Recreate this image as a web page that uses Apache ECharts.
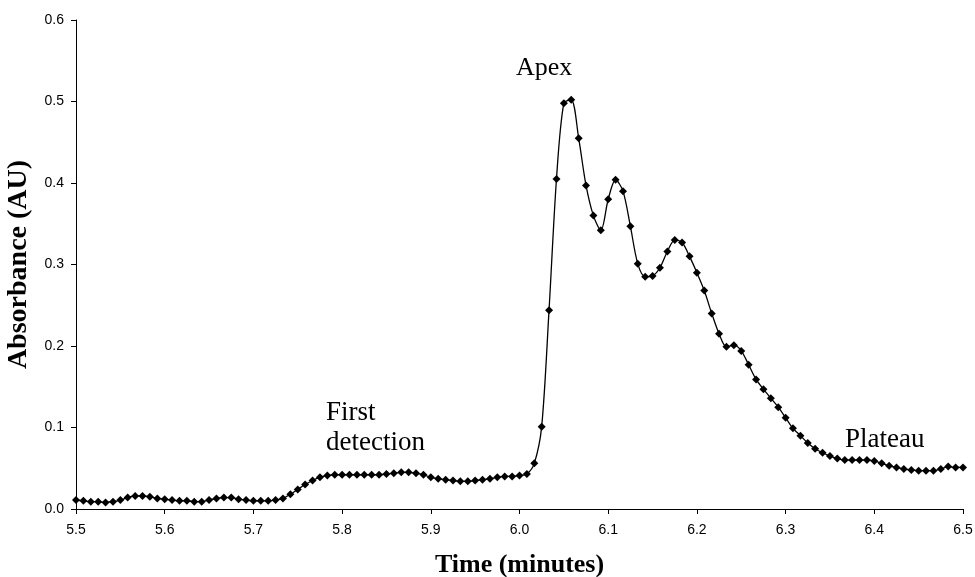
<!DOCTYPE html>
<html>
<head>
<meta charset="utf-8">
<script src="https://cdn.jsdelivr.net/npm/echarts@6/dist/echarts.min.js"></script>
<style>
html,body{margin:0;padding:0;background:#fff;}
#chart{width:975px;height:577px;}
</style>
</head>
<body>
<div id="chart"></div>
<script>
// Sampling times (minutes)
var times = [
  5.5,5.5083,5.5167,5.525,5.5333,5.5417,5.55,5.5583,5.5667,5.575,5.5833,5.5917,
  5.6,5.6083,5.6167,5.625,5.6333,5.6417,5.65,5.6583,5.6667,5.675,5.6833,5.6917,
  5.7,5.7083,5.7167,5.725,5.7333,5.7417,5.75,5.7583,5.7667,5.775,5.7833,5.7917,
  5.8,5.8083,5.8167,5.825,5.8333,5.8417,5.85,5.8583,5.8667,5.875,5.8833,5.8917,
  5.9,5.9083,5.9167,5.925,5.9333,5.9417,5.95,5.9583,5.9667,5.975,5.9833,5.9917,
  6.0,6.0083,6.0167,6.025,6.0333,6.0417,6.05,6.0583,6.0667,6.075,6.0833,6.0917,
  6.1,6.1083,6.1167,6.125,6.1333,6.1417,6.15,6.1583,6.1667,6.175,6.1833,6.1917,
  6.2,6.2083,6.2167,6.225,6.2333,6.2417,6.25,6.2583,6.2667,6.275,6.2833,6.2917,
  6.3,6.3083,6.3167,6.325,6.3333,6.3417,6.35,6.3583,6.3667,6.375,6.3833,6.3917,
  6.4,6.4083,6.4167,6.425,6.4333,6.4417,6.45,6.4583,6.4667,6.475,6.4833,6.4917,
  6.5
];
// Absorbance (AU)
var absorbance = [
  0.011,0.010,0.009,0.009,0.008,0.009,0.011,0.014,0.016,0.016,0.015,0.013,
  0.012,0.011,0.010,0.010,0.009,0.009,0.011,0.013,0.014,0.014,0.012,0.011,
  0.010,0.010,0.010,0.011,0.013,0.018,0.024,0.030,0.035,0.039,0.041,0.042,
  0.042,0.042,0.042,0.042,0.042,0.042,0.043,0.044,0.045,0.045,0.044,0.042,
  0.039,0.037,0.036,0.035,0.034,0.034,0.035,0.036,0.037,0.039,0.040,0.040,
  0.041,0.043,0.056,0.101,0.244,0.405,0.498,0.502,0.455,0.397,0.360,0.342,
  0.380,0.404,0.390,0.347,0.301,0.285,0.286,0.296,0.316,0.330,0.327,0.310,
  0.290,0.268,0.240,0.215,0.199,0.201,0.194,0.177,0.159,0.147,0.136,0.125,
  0.112,0.099,0.090,0.081,0.074,0.069,0.065,0.062,0.060,0.060,0.060,0.060,
  0.059,0.056,0.053,0.051,0.049,0.048,0.047,0.047,0.047,0.049,0.052,0.051,
  0.051
];
var xTitle = 'Time (minutes)';
var yTitle = 'Absorbance (AU)';
var annotations = ['Apex', 'First\ndetection', 'Plateau'];

var seriesData = times.map(function (t, i) { return [t, absorbance[i]]; });

var chart = echarts.init(document.getElementById('chart'), null, {renderer: 'canvas'});
var sans = '"Liberation Sans", Arial, sans-serif';
var serif = '"Liberation Serif", "Times New Roman", serif';

chart.setOption({
  backgroundColor: '#ffffff',
  animation: false,
  grid: {left: 76, right: 12, top: 20, bottom: 68, containLabel: false, outerBoundsMode: 'none'},
  xAxis: {
    type: 'value', min: 5.5, max: 6.5, interval: 0.1,
    name: xTitle, nameLocation: 'middle', nameGap: 43,
    nameTextStyle: {fontFamily: serif, fontWeight: 'bold', fontSize: 26, color: '#000'},
    axisLine: {show: true, onZero: false, lineStyle: {color: '#000', width: 1}},
    axisTick: {show: true, inside: false, length: 5, lineStyle: {color: '#000'}},
    axisLabel: {fontFamily: sans, fontSize: 14, color: '#000', margin: 14,
      formatter: function (v) { return v.toFixed(1); }},
    splitLine: {show: false}
  },
  yAxis: {
    type: 'value', min: 0, max: 0.6, interval: 0.1,
    name: yTitle, nameLocation: 'middle', nameGap: 43,
    nameTextStyle: {fontFamily: serif, fontWeight: 'bold', fontSize: 28, color: '#000'},
    axisLine: {show: true, lineStyle: {color: '#000', width: 1}},
    axisTick: {show: true, inside: false, length: 5, lineStyle: {color: '#000'}},
    axisLabel: {fontFamily: sans, fontSize: 14, color: '#000', margin: 12,
      formatter: function (v) { return v.toFixed(1); }},
    splitLine: {show: false}
  },
  series: [{
    type: 'line',
    data: seriesData,
    smooth: 0.3,
    symbol: 'diamond',
    symbolSize: 8,
    showAllSymbol: true,
    itemStyle: {color: '#000'},
    lineStyle: {color: '#000', width: 1.3}
  }],
  graphic: [
    {type: 'text', left: 516, top: 55,
      style: {text: annotations[0], font: '26px ' + serif, fill: '#000'}},
    {type: 'text', left: 326, top: 398,
      style: {text: annotations[1], font: '27px ' + serif, fill: '#000', lineHeight: 30}},
    {type: 'text', left: 845, top: 426,
      style: {text: annotations[2], font: '27px ' + serif, fill: '#000'}}
  ]
});
</script>
</body>
</html>
